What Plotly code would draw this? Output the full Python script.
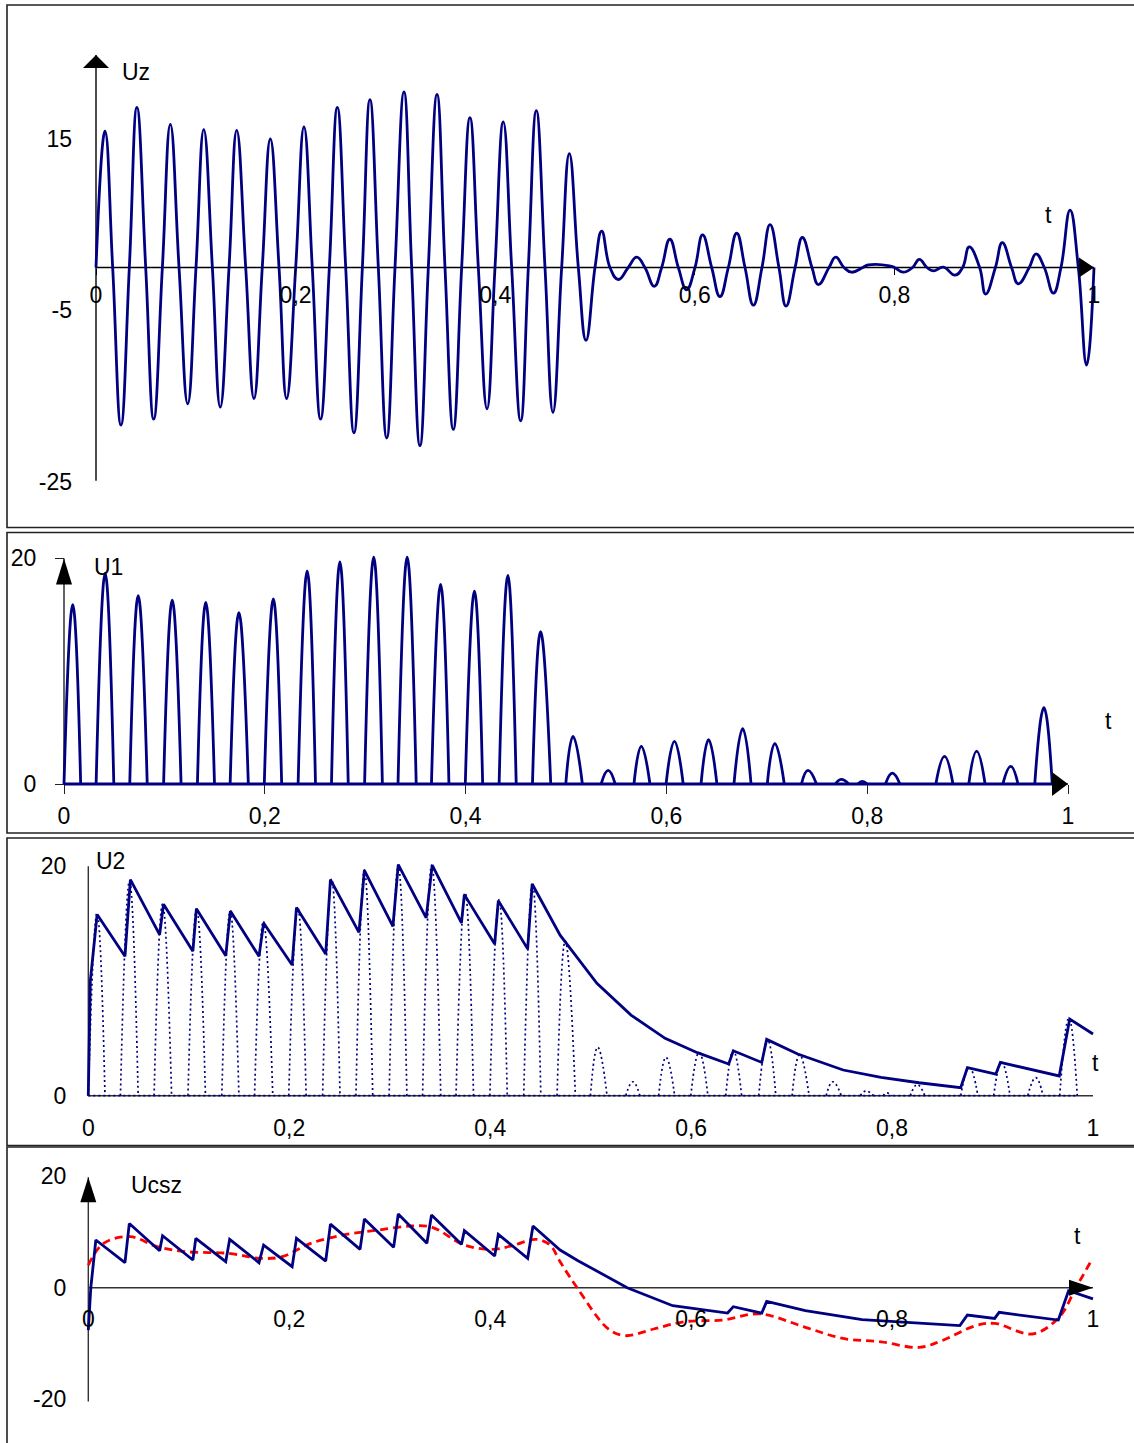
import plotly.graph_objects as go

# ---------------- data ----------------
# Uz : extrema and zero crossings of the input signal
uz_t = [0, 0.009, 0.0167, 0.025, 0.0334, 0.041, 0.0498, 0.0578, 0.0665, 0.0745, 0.0832,
        0.0919, 0.1002, 0.108, 0.1166, 0.1245, 0.1333, 0.141, 0.15, 0.1583, 0.1666,
        0.1747, 0.1834, 0.191, 0.2001, 0.2084, 0.2167, 0.225, 0.2338, 0.2418, 0.2502,
        0.2585, 0.2669, 0.2745, 0.2829, 0.2913, 0.2996, 0.3086, 0.3163, 0.3246, 0.333,
        0.3417, 0.3497, 0.358, 0.3664, 0.3747, 0.3831, 0.3918, 0.3998, 0.4081, 0.4165,
        0.4255, 0.4332, 0.4412, 0.4499, 0.4579, 0.4666, 0.4743, 0.4833, 0.491, 0.5,
        0.5067, 0.515, 0.5234, 0.5333, 0.5418, 0.55, 0.5594, 0.5668, 0.575, 0.5835,
        0.5918, 0.6002, 0.6078, 0.6169, 0.6252, 0.6336, 0.642, 0.6503, 0.6587, 0.6673,
        0.6754, 0.6843, 0.6914, 0.7005, 0.7078, 0.7174, 0.7238, 0.7345, 0.7412, 0.7495,
        0.7572, 0.7684, 0.7739, 0.795, 0.8, 0.8089, 0.8182, 0.825, 0.8326, 0.839,
        0.849, 0.8607, 0.8684, 0.875, 0.8854, 0.8914, 0.9012, 0.9081, 0.9174, 0.9241,
        0.9351, 0.9419, 0.9502, 0.9593, 0.9669, 0.976, 0.9843, 0.9926, 1.0]
uz_v = [0, 15.9, 0, -18.4, 0, 18.7, 0, -17.7, 0, 16.7, 0,
        -15.9, 0, 16.1, 0, -16.3, 0, 16.0, 0, -15.3, 0,
        15.0, 0, -15.3, 0, 16.4, 0, -17.7, 0, 18.7, 0,
        -19.3, 0, 19.6, 0, -19.9, 0, 20.5, 0, -20.8, 0,
        20.2, 0, -18.9, 0, 17.5, 0, -16.5, 0, 17.0, 0,
        -17.9, 0, 18.3, 0, -16.9, 0, 13.3, 0, -8.5, 0,
        4.25, 0, -1.4, 0, 1.2, 0, -2.2, 0, 3.3, 0,
        -2.6, 0, 3.8, 0, -3.4, 0, 4.0, 0, -4.4, 0,
        5.0, 0, -4.5, 0, 3.5, 0, -2.0, 0, 1.2, 0,
        -0.55, 0, 0.3, 0.2, 0, -0.55, 0, 0.95, 0, -0.4,
        0.05, -0.9, 0, 2.4, 0, -3.1, 0, 2.9, 0, -1.9,
        0, 1.6, 0, -3.0, 0, 6.7, 0, -11.4, 0]

# U1 : rectified pulses (start, peak time, peak value, end)
u1_on = [0, 0.032, 0.0655, 0.0992, 0.1329, 0.1655, 0.1995, 0.2332, 0.2664, 0.2994,
         0.3327, 0.366, 0.3997, 0.4334, 0.4666, 0.4998, 0.535, 0.5677, 0.5997, 0.6345,
         0.6673, 0.7005, 0.7345, 0.7684, 0.791, 0.8182, 0.8684, 0.9012, 0.9351, 0.9669]
u1_peak_t = [0.0087, 0.041, 0.0739, 0.1078, 0.1412, 0.1742, 0.2085, 0.2422, 0.2748, 0.3085,
             0.3418, 0.3751, 0.4088, 0.4421, 0.4747, 0.507, 0.542, 0.575, 0.608, 0.642,
             0.676, 0.708, 0.741, 0.774, 0.795, 0.825, 0.877, 0.909, 0.943, 0.976]
u1_peak_v = [15.9, 18.7, 16.7, 16.3, 16.1, 15.2, 16.4, 18.9, 19.7, 20.1,
             20.1, 17.7, 17.1, 18.5, 13.5, 4.22, 1.21, 3.34, 3.78, 3.93,
             4.9, 3.57, 1.21, 0.41, 0.24, 0.97, 2.45, 2.92, 1.57, 6.76]
u1_off = [0.0166, 0.0496, 0.0829, 0.1166, 0.1499, 0.1836, 0.2168, 0.2505, 0.2831, 0.3171,
          0.3508, 0.3834, 0.417, 0.4504, 0.4848, 0.5163, 0.549, 0.5836, 0.6167, 0.6503,
          0.6843, 0.7174, 0.7495, 0.7816, 0.8, 0.8326, 0.8854, 0.9174, 0.9502, 0.9843]

# U2 : peak detector output (vertices)
u2_t = [0, 0.002, 0.0088, 0.0365, 0.0419, 0.071, 0.0749, 0.1041, 0.1076, 0.1368,
        0.1414, 0.1699, 0.1745, 0.2029, 0.2072, 0.2363, 0.241, 0.2694, 0.2748, 0.3032,
        0.3085, 0.3363, 0.3423, 0.3714, 0.3743, 0.4045, 0.4081, 0.4373, 0.4418, 0.4696,
        0.5062, 0.5402, 0.5741, 0.6062, 0.6374, 0.642, 0.6703, 0.6752, 0.7061, 0.7513,
        0.789, 0.8268, 0.8683, 0.875, 0.9033, 0.9078, 0.9664, 0.9768, 1.0]
u2_v = [0, 10.0, 15.8, 12.15, 18.84, 14.04, 16.7, 12.6, 16.3, 12.2,
        16.1, 12.15, 15.06, 11.4, 16.4, 12.35, 18.84, 14.24, 19.65, 14.77,
        20.15, 15.5, 20.1, 15.06, 17.53, 13.23, 17.0, 12.8, 18.46, 14.0,
        9.8, 7.03, 5.0, 3.75, 2.76, 3.92, 2.9, 4.91, 3.63, 2.24,
        1.6, 1.13, 0.7, 2.44, 1.89, 2.9, 1.72, 6.69, 5.38]

# Ucsz : blue (solid) and red (dashed)
ucsz_t = [0, 0.0025, 0.0075, 0.0365, 0.0408, 0.071, 0.0739, 0.1041, 0.107, 0.1368,
          0.1407, 0.1699, 0.1745, 0.2029, 0.2072, 0.2363, 0.241, 0.2705, 0.2748, 0.3039,
          0.3085, 0.337, 0.3416, 0.3714, 0.3743, 0.4045, 0.4081, 0.4373, 0.4426, 0.4696,
          0.4874, 0.5364, 0.5817, 0.6363, 0.642, 0.6703, 0.6752, 0.7137, 0.7702, 0.8362,
          0.8675, 0.875, 0.9021, 0.9066, 0.9655, 0.9757, 1.0]
ucsz_v = [-7.6, 0, 8.55, 4.48, 11.5, 6.63, 9.32, 4.96, 8.85, 4.66,
          8.67, 4.48, 7.65, 3.77, 8.85, 4.78, 11.4, 6.87, 12.3, 7.23,
          13.2, 7.95, 13.03, 7.77, 10.22, 5.68, 9.56, 5.26, 11.06, 6.75,
          4.84, 0, -3.23, -4.54, -3.4, -4.54, -2.45, -4.12, -5.74, -6.5,
          -6.8, -4.9, -5.5, -4.42, -5.8, -0.54, -2.0]
red_t = [0, 0.0152, 0.0419, 0.0685, 0.097, 0.1397, 0.1717, 0.193, 0.2214, 0.2534,
         0.289, 0.321, 0.3423, 0.3743, 0.4027, 0.4241, 0.4454, 0.4596, 0.4696, 0.4874,
         0.5176, 0.5345, 0.5628, 0.5929, 0.6307, 0.6684, 0.7137, 0.7513, 0.789, 0.8268,
         0.8494, 0.8833, 0.9021, 0.9398, 0.9662, 0.9832, 0.9983]
red_v = [4.06, 7.95, 9.15, 7.35, 6.46, 6.16, 5.26, 5.56, 7.95, 9.44,
         10.34, 11.06, 10.82, 7.65, 6.87, 7.65, 8.67, 7.65, 4.66, -0.24,
         -7.4, -8.6, -7.4, -6.1, -5.8, -4.7, -7.1, -9.1, -9.7, -10.7,
         -9.5, -6.8, -6.4, -8.3, -5.3, 0.06, 4.84]

x_ticks = [0, 0.2, 0.4, 0.6, 0.8, 1]
x_ticktext = ['0', '0,2', '0,4', '0,6', '0,8', '1']
uz_yticks = [-25, -5, 15]
u1_yticks = [0, 20]
u2_yticks = [0, 20]
ucsz_yticks = [-20, 0, 20]

# ---------------- styling / geometry ----------------
W, H = 1134, 1443
NAVY = '#000080'
FONT = 'Liberation Sans, Arial, sans-serif'
FS = 23
LW = 2.8

# per-panel pixel geometry: box, plot domain, pixel of t=0 / t=1, pixel of v=0, px per unit
P = {
    1: dict(box=(7, 5, 1140, 527.5), dom_x=(20, 1125), dom_y=(20, 505),
            t0=96, t1=1094, v0=267.5, k=8.568, yline=(-24.9, 24.8),
            xticks='outside', xticklen=6, yticks='', yticklen=0,
            yt=uz_yticks, axcol='#000000', xstand=1, ystand=24),
    2: dict(box=(7, 532.5, 1140, 833), dom_x=(20, 1125), dom_y=(540, 828),
            t0=64, t1=1068, v0=784, k=11.28, yline=(0, 20),
            xticks='outside', xticklen=9, yticks='outside', yticklen=9,
            yt=u1_yticks, axcol='#222222', xstand=2, ystand=14),
    3: dict(box=(7, 838, 1140, 1145.5), dom_x=(20, 1125), dom_y=(845, 1140),
            t0=88.3, t1=1093, v0=1095.7, k=11.47, yline=(0, 20),
            xticks='', xticklen=0, yticks='', yticklen=0,
            yt=u2_yticks, axcol='#333333', xstand=16, ystand=22),
    4: dict(box=(7, 1147, 1140, 1450), dom_x=(20, 1125), dom_y=(1152, 1438),
            t0=88.3, t1=1093, v0=1287.7, k=5.58, yline=(-20.4, 19.8),
            xticks='', xticklen=0, yticks='', yticklen=0,
            yt=ucsz_yticks, axcol='#333333', xstand=15, ystand=22),
}

fig = go.Figure()


def axn(i, letter):
    return letter if i == 1 else f'{letter}{i}'


def pulses(on, pt, pv, off):
    xs, ys = [], []
    for a, b, c, d in zip(on, pt, pv, off):
        xs += [a, b, d, None]
        ys += [0, c, 0, None]
    return xs, ys


# panel 1
fig.add_trace(go.Scatter(x=uz_t, y=uz_v, mode='lines',
                         line=dict(color=NAVY, width=LW, shape='spline', smoothing=1.3),
                         xaxis='x', yaxis='y', hoverinfo='skip'))
# panel 2
px_, py_ = pulses(u1_on, u1_peak_t, u1_peak_v, u1_off)
fig.add_trace(go.Scatter(x=[u1_on[0], u1_off[-1]], y=[0, 0], mode='lines',
                         line=dict(color=NAVY, width=LW), xaxis='x2', yaxis='y2', hoverinfo='skip'))
fig.add_trace(go.Scatter(x=px_, y=py_, mode='lines', connectgaps=False,
                         line=dict(color=NAVY, width=LW, shape='spline', smoothing=1.3),
                         xaxis='x2', yaxis='y2', hoverinfo='skip'))
# panel 3
fig.add_trace(go.Scatter(x=[u1_on[0], u1_off[-1]], y=[0, 0], mode='lines',
                         line=dict(color=NAVY, width=1.7, dash='2px,3px'),
                         xaxis='x3', yaxis='y3', hoverinfo='skip'))
fig.add_trace(go.Scatter(x=px_, y=py_, mode='lines', connectgaps=False,
                         line=dict(color=NAVY, width=1.7, shape='spline', smoothing=1.3, dash='2px,3px'),
                         xaxis='x3', yaxis='y3', hoverinfo='skip'))
fig.add_trace(go.Scatter(x=u2_t, y=u2_v, mode='lines', line=dict(color=NAVY, width=LW),
                         xaxis='x3', yaxis='y3', hoverinfo='skip'))
# panel 4
fig.add_trace(go.Scatter(x=red_t, y=red_v, mode='lines',
                         line=dict(color='#FF0000', width=LW, dash='8px,5px', shape='spline'),
                         xaxis='x4', yaxis='y4', hoverinfo='skip'))
fig.add_trace(go.Scatter(x=ucsz_t, y=ucsz_v, mode='lines', line=dict(color=NAVY, width=LW),
                         xaxis='x4', yaxis='y4', hoverinfo='skip'))

# ---- axes ----
layout_axes = {}
shapes = []
for i, p in P.items():
    a, b = p['dom_x']
    kt = p['t1'] - p['t0']
    xr = [(a - p['t0']) / kt, (b - p['t0']) / kt]
    top, bot = p['dom_y']
    yr = [(p['v0'] - bot) / p['k'], (p['v0'] - top) / p['k']]
    layout_axes['xaxis' if i == 1 else f'xaxis{i}'] = dict(
        domain=[a / W, b / W], range=xr, anchor='free', position=1 - p['v0'] / H,
        showgrid=False, zeroline=False, showline=False,
        tickmode='array', tickvals=x_ticks, ticktext=x_ticktext,
        ticks=p['xticks'], ticklen=p['xticklen'], tickcolor=p['axcol'], tickwidth=1.3,
        ticklabelstandoff=p['xstand'],
        tickfont=dict(family=FONT, size=FS, color='#000000'), fixedrange=True)
    layout_axes['yaxis' if i == 1 else f'yaxis{i}'] = dict(
        domain=[1 - bot / H, 1 - top / H], range=yr, anchor='free', position=p['t0'] / W,
        showgrid=False, zeroline=False, showline=False,
        tickmode='array', tickvals=p['yt'], ticktext=[str(v) for v in p['yt']],
        ticks=p['yticks'], ticklen=p['yticklen'], tickcolor=p['axcol'], tickwidth=1.3,
        ticklabelstandoff=p['ystand'],
        tickfont=dict(family=FONT, size=FS, color='#000000'), fixedrange=True)

    xref, yref = axn(i, 'x'), axn(i, 'y')
    # axis lines
    shapes.append(dict(type='line', xref=xref, yref=yref, x0=0, x1=1, y0=0, y1=0,
                       line=dict(color=p['axcol'], width=1.4), layer='below'))
    shapes.append(dict(type='line', xref=xref, yref=yref, x0=0, x1=0, y0=p['yline'][0], y1=p['yline'][1],
                       line=dict(color=p['axcol'], width=1.4), layer='below'))
    # panel frame
    x0, y0, x1, y1 = p['box']
    shapes.append(dict(type='rect', xref='paper', yref='paper', x0=x0 / W, x1=x1 / W,
                       y0=1 - y0 / H, y1=1 - y1 / H, line=dict(color='#222222', width=1.6),
                       fillcolor='rgba(0,0,0,0)', layer='above'))

# arrow heads (pixel sized, anchored on the axes)
arrows = [
    ('x', 'y', 0, 24.8, 'M0,0 L-13,-13 L13,-13 Z'),
    ('x', 'y', 1, 0, 'M0,0 L-15,10 L-15,-10 Z'),
    ('x2', 'y2', 0, 20, 'M0,0 L-8,-26 L8,-26 Z'),
    ('x2', 'y2', 1, 0, 'M0,0 L-16,12 L-16,-12 Z'),
    ('x4', 'y4', 0, 19.8, 'M0,0 L-8,-25 L8,-25 Z'),
    ('x4', 'y4', 1, 0, 'M0,0 L-24,8 L-24,-8 Z'),
]
for xr_, yr_, xa, ya, path in arrows:
    shapes.append(dict(type='path', xref=xr_, yref=yr_, xsizemode='pixel', ysizemode='pixel',
                       xanchor=xa, yanchor=ya, path=path, fillcolor='#000000',
                       line=dict(width=0), layer='above'))

# text labels (pixel positions)
labels = [('Uz', 136, 72), ('t', 1048, 215), ('U1', 108, 567), ('t', 1108, 721),
          ('U2', 110, 861), ('t', 1095, 1063), ('Ucsz', 156, 1185), ('t', 1077, 1236)]
annotations = [dict(text=s, x=x / W, y=1 - y / H, xref='paper', yref='paper', showarrow=False,
                    xanchor='center', yanchor='middle', font=dict(family=FONT, size=FS, color='#000000'))
               for s, x, y in labels]

fig.update_layout(
    width=W, height=H, autosize=False,
    margin=dict(l=0, r=0, t=0, b=0, pad=0),
    paper_bgcolor='#FFFFFF', plot_bgcolor='rgba(0,0,0,0)',
    showlegend=False, separators=', ',
    font=dict(family=FONT, size=FS, color='#000000'),
    shapes=shapes, annotations=annotations,
    **layout_axes,
)

fig.write_html('out.html', config={'displayModeBar': False},
               post_script="document.body.style.margin='0px';document.body.style.padding='0px';")
